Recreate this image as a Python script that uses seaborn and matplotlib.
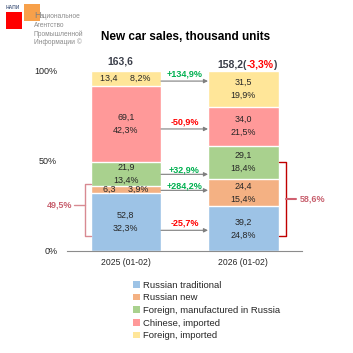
import matplotlib
matplotlib.use("Agg")
import matplotlib.pyplot as plt
from matplotlib.patches import Rectangle, Patch
import pandas as pd
import seaborn as sns

years = ["2025 (01-02)", "2026 (01-02)"]
segments = ["Russian traditional", "Russian new", "Foreign, manufactured in Russia",
            "Chinese, imported", "Foreign, imported"]
colors = ["#9DC3E6", "#F4B183", "#A9D18E", "#FF9999", "#FFE699"]
units_2025 = [52.8, 6.3, 21.9, 69.1, 13.4]
units_2026 = [39.2, 24.4, 29.1, 34.0, 31.5]
share_2025 = [32.3, 3.9, 13.4, 42.3, 8.2]
share_2026 = [24.8, 15.4, 18.4, 21.5, 19.9]
changes = ["-25,7%", "+284,2%", "+32,9%", "-50,9%", "+134,9%"]
totals = ["163,6", "158,2"]
total_change = "-3,3%"
bracket_labels = ["49,5%", "58,6%"]
yticks = [0, 50, 100]
ytick_labels = ["0%", "50%", "100%"]

FONT = ["Liberation Sans", "DejaVu Sans"]
sns.set_theme(style="white")
plt.rcParams["font.family"] = FONT

rows = []
for yi, (u, s) in enumerate([(units_2025, share_2025), (units_2026, share_2026)]):
    cum = 0
    for i, seg in enumerate(segments):
        rows.append(dict(year=years[yi], segment=seg, units=u[i], share=s[i],
                         bottom=cum, cum=cum + s[i]))
        cum += s[i]
df = pd.DataFrame(rows)

fig = plt.figure(figsize=(3.53, 3.53), dpi=100)
ax = fig.add_axes([67 / 353, 102 / 353, 235 / 353, 180 / 353])

for i in reversed(range(len(segments))):
    sub = df[df.segment == segments[i]]
    sns.barplot(data=sub, x="year", y="cum", order=years, color=colors[i],
                saturation=1, width=0.6, ax=ax, errorbar=None)

ax.set_xlim(-0.5, 1.5)
ax.set_ylim(0, 100)
ax.set_xlabel("")
ax.set_ylabel("")
for s in ["top", "right", "left"]:
    ax.spines[s].set_visible(False)
ax.spines["bottom"].set_color("#8C8C8C")
ax.spines["bottom"].set_linewidth(0.8)
ax.set_yticks(yticks)
ax.set_yticklabels(ytick_labels)
ax.tick_params(axis="y", length=0, pad=7, labelsize=6.5, labelcolor="#262626")
ax.set_xticks([0, 1])
ax.set_xticklabels(years)
ax.tick_params(axis="x", which="major", length=0, pad=5, labelsize=6.2, labelcolor="#262626")
ax.set_xticks([-0.5, 0.5, 1.5], minor=True)
ax.tick_params(axis="x", which="minor", length=3, width=0.8, color="#8C8C8C", direction="out")

# segment labels
lab_fs = 6.4
for _, r in df.iterrows():
    xi = years.index(r.year)
    mid = r.bottom + r.share / 2
    u = f"{r.units:.1f}".replace(".", ",")
    p = f"{r.share:.1f}".replace(".", ",") + "%"
    if r.share < 10:
        ax.text(xi, mid, f"{u}     {p}", ha="center", va="center", fontsize=lab_fs, color="#262626")
    else:
        ax.text(xi, mid, f"{u}\n{p}", ha="center", va="center", fontsize=lab_fs,
                color="#262626", linespacing=1.55)

# change arrows
arrow_y = [11.5, 33.7, 42.6, 67.8, 94.4]
label_y = [15.7, 36.3, 45.0, 71.8, 98.3]
for i in range(len(segments)):
    ax.annotate("", xy=(0.7, arrow_y[i]), xytext=(0.3, arrow_y[i]),
                arrowprops=dict(arrowstyle="-|>", color="#7F7F7F", lw=0.8,
                                mutation_scale=6, shrinkA=0, shrinkB=0))
    c = "#00B050" if changes[i].startswith("+") else "#FF0000"
    ax.text(0.5, label_y[i], changes[i], ha="center", va="center", fontsize=6.5,
            color=c, fontweight="bold")

# totals
tot_col = "#3B3F4A"
ax.text(-0.049, 105.5, totals[0], ha="center", va="center", fontsize=7.5,
        color=tot_col, fontweight="bold", clip_on=False)
t1 = ax.text(0.777, 103.5, totals[1] + "(", ha="left", va="center", fontsize=7.5,
             color=tot_col, fontweight="bold", clip_on=False)
t2 = ax.annotate(total_change, xycoords=t1, xy=(1, 0), va="bottom", ha="left",
                 fontsize=7.5, color="#FF0000", fontweight="bold")
ax.annotate(")", xycoords=t2, xy=(1, 0), va="bottom", ha="left",
            fontsize=7.5, color=tot_col, fontweight="bold")

# brackets
lc = "#D88A92"
ax.plot([-0.3, -0.347, -0.347, -0.3], [37.2, 37.2, 8.3, 8.3], color=lc, lw=1, clip_on=False)
ax.plot([-0.347, -0.44], [25.6, 25.6], color=lc, lw=1, clip_on=False)
ax.text(-0.455, 25.6, bracket_labels[0], ha="right", va="center", fontsize=6.5,
        color="#C8606E", fontweight="bold", clip_on=False)
rc = "#C00000"
ax.plot([1.3, 1.364, 1.364, 1.3], [49.4, 49.4, 8.3, 8.3], color=rc, lw=1, clip_on=False)
ax.plot([1.364, 1.449], [28.9, 28.9], color="#D06070", lw=1.5, clip_on=False)
ax.text(1.483, 28.9, bracket_labels[1], ha="left", va="center", fontsize=6.5,
        color="#C8606E", fontweight="bold", clip_on=False)

# title
fig.text(186 / 353, 1 - 37 / 353, "New car sales, thousand units", ha="center", va="center",
         fontsize=8.5, fontweight="bold", color="black")

# logo
fig.add_artist(Rectangle((6 / 353, 1 - 28.5 / 353), 16 / 353, 16 / 353,
                         transform=fig.transFigure, color="#FF0000", lw=0))
fig.add_artist(Rectangle((24 / 353, 1 - 20.5 / 353), 16 / 353, 16 / 353,
                         transform=fig.transFigure, color="#F7A04A", lw=0))
fig.text(6 / 353, 1 - 7.5 / 353, "НАПИ", fontsize=3.6, color="#5A6B8C",
         ha="left", va="center", fontweight="bold")
fig.text(34 / 353, 1 - 16 / 353, "Н", fontsize=6.5, color="#808080", ha="left", va="center")
fig.text(39.5 / 353, 1 - 17 / 353, "ациональное", fontsize=4.8, color="#8C8C8C", ha="left", va="center")
for k, line in enumerate(["Агентство", "Промышленной", "Информации ©"]):
    fig.text(34 / 353, 1 - (25.5 + 8.5 * k) / 353, line, fontsize=4.8, color="#8C8C8C",
             ha="left", va="center")

# legend
handles = [Patch(facecolor=colors[i], edgecolor="none") for i in range(len(segments))]
fig.legend(handles, segments, loc="upper left", bbox_to_anchor=(131 / 353, 1 - 279 / 353),
           frameon=False, fontsize=6.8, handlelength=0.7, handleheight=0.7,
           handletextpad=0.35, labelspacing=0.38, borderaxespad=0, borderpad=0.2)

fig.savefig("out.png", dpi=100)
